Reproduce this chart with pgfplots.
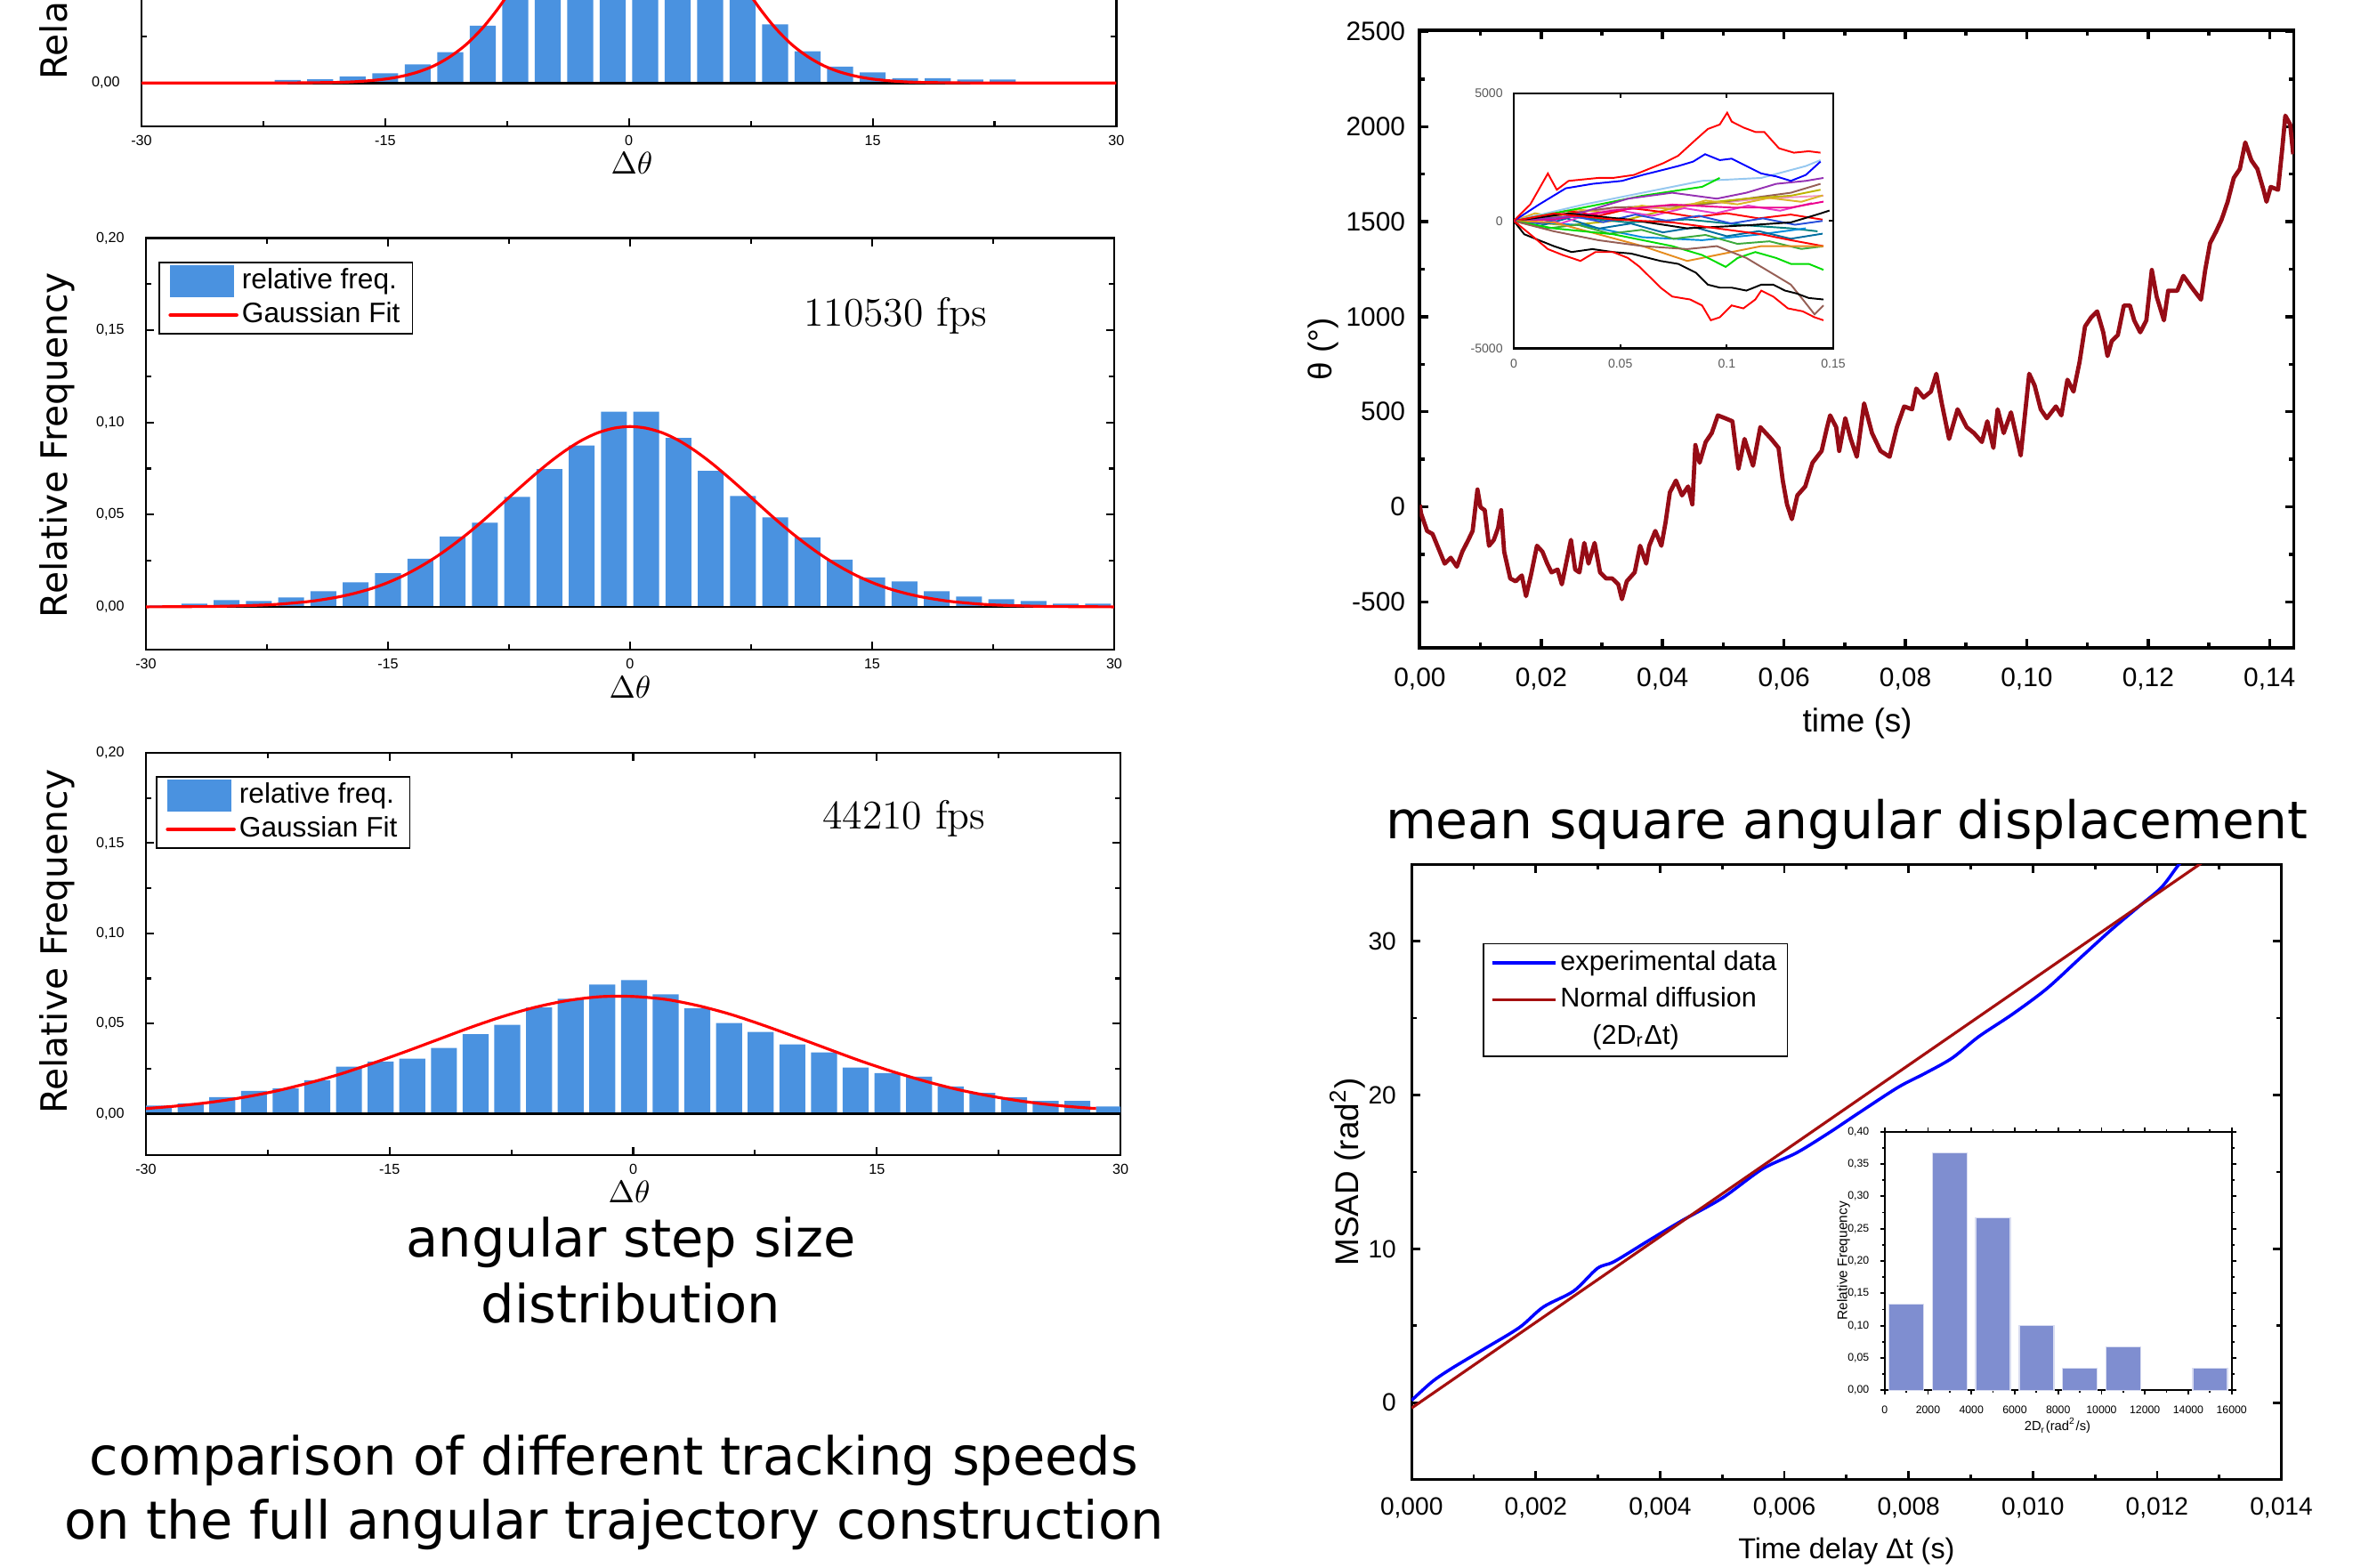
\documentclass[border=0pt]{standalone}
\usepackage{pgfplots}
\pgfplotsset{compat=1.18}
\usepackage{fontspec}
\newfontfamily\arial{Liberation Sans}
\newfontfamily\dejavu{DejaVu Sans}

\definecolor{barblue}{RGB}{74,146,224}
\definecolor{trace}{RGB}{150,12,22}
\definecolor{msadred}{RGB}{165,15,15}
\definecolor{histblue}{RGB}{127,142,208}
\definecolor{wbrown}{RGB}{150,95,85}
\definecolor{wgreen}{RGB}{0,220,0}
\definecolor{wdgreen}{RGB}{60,170,60}
\definecolor{worange}{RGB}{230,140,30}
\definecolor{wyellow}{RGB}{220,180,40}
\definecolor{wpurple}{RGB}{150,50,180}
\definecolor{wlblue}{RGB}{150,200,240}
\definecolor{wolive}{RGB}{190,180,0}
\definecolor{wteal}{RGB}{0,130,130}
\definecolor{wcyan}{RGB}{0,140,220}
\definecolor{wdcyan}{RGB}{0,110,160}
\definecolor{wpink}{RGB}{240,150,200}
\definecolor{wmag}{RGB}{230,60,200}
\definecolor{wblue}{RGB}{40,80,220}

\pgfplotsset{
  scaled ticks=false,
  /pgf/number format/assume math mode=true,
  histo/.style={
    anchor=south west, scale only axis,
    xmin=-30, xmax=30, ymax=0.2,
    xtick={-30,-15,0,15,30}, minor x tick num=1,
    ytick={0,0.05,0.1,0.15,0.2}, minor y tick num=1,
    tick align=inside, tick pos=both,
    major tick length=0.09cm, minor tick length=0.06cm,
    axis line style={line width=0.6pt},
    every tick/.style={black, line width=0.6pt},
    ticklabel style={font=\arial\fontsize{4.6}{5}\selectfont},
    yticklabel style={/pgf/number format/.cd, fixed, fixed zerofill, precision=2, use comma},
    xticklabel shift=-0.02cm, yticklabel shift=0.12cm,
    xlabel={$\Delta\theta$},
    xlabel style={font=\fontsize{10}{12}\selectfont, anchor=center},
    ylabel={Relative Frequency},
    ylabel style={font=\dejavu\fontsize{11.6}{13}\selectfont, anchor=center},
    legend cell align=left,
    legend style={anchor=north west, draw=black, line width=0.5pt,
      font=\arial\fontsize{9}{10}\selectfont,
      inner xsep=0.1cm, inner ysep=0.03cm, row sep=0.02cm,
      nodes={inner sep=0.04cm}},
  }
}

\begin{document}
\begin{tikzpicture}
\useasboundingbox (0,0) rectangle (26.71,-17.61);

% ---------- top-left histogram (cut at the top) ----------
\begin{axis}[histo, at={(1.59cm,-1.417cm)}, width=10.955cm, height=4.629cm, ymin=-0.0234,
  yticklabels={{0,00},{},{},{},{}},
  ylabel style={at={(axis description cs:-0.0867,0.531)}},
  xlabel style={at={(axis description cs:0.503,-0.0892)}}]
\addplot[ybar, bar width=1.6, bar shift=0pt, fill=barblue, draw=none, forget plot] coordinates {
  (-21,0.0016) (-19,0.0020) (-17,0.0036) (-15,0.0052) (-13,0.0101) (-11,0.0167)
  (-9,0.0310) (-7,0.056) (-5,0.083) (-3,0.108) (-1,0.126) (1,0.125) (3,0.109)
  (5,0.084) (7,0.057) (9,0.0318) (11,0.0172) (13,0.0089) (15,0.0057) (17,0.0026)
  (19,0.0026) (21,0.0018) (23,0.0018)};
\addplot[black, line width=0.8pt, forget plot] coordinates {(-30,0) (30,0)};
\addplot[red, line width=0.9pt, smooth, forget plot] coordinates {
  (-30,0) (-22,0) (-20,0.0001) (-18,0.0003) (-17,0.0006) (-16,0.0012) (-15,0.0021)
  (-14,0.0036) (-13,0.0059) (-12,0.0093) (-11,0.0143) (-10,0.0210) (-9,0.0299)
  (-8,0.0410) (-7,0.0541) (-6,0.0688) (-5,0.0843) (-4,0.0996) (-3,0.1134)
  (-2,0.1244) (-1,0.1315) (0,0.1340) (1,0.1315) (2,0.1244) (3,0.1134) (4,0.0996)
  (5,0.0843) (6,0.0688) (7,0.0541) (8,0.0410) (9,0.0299) (10,0.0210) (11,0.0143)
  (12,0.0093) (13,0.0059) (14,0.0036) (15,0.0021) (16,0.0012) (17,0.0006)
  (18,0.0003) (20,0.0001) (22,0) (30,0)};
\end{axis}

% ---------- 110530 fps ----------
\begin{axis}[histo, at={(1.64cm,-7.30cm)}, width=10.88cm, height=4.625cm, ymin=-0.0232,
  ylabel style={at={(axis description cs:-0.0919,0.4965)}},
  xlabel style={at={(axis description cs:0.5,-0.0908)}},
  legend style={at={(0.0133,0.9427)}}]
\addlegendimage{legend image code/.code={\fill[barblue] (0cm,-0.17cm) rectangle (0.70cm,0.17cm);}}
\addlegendentry{relative freq.}
\addlegendimage{legend image code/.code={\draw[red, line width=1.3pt, line cap=round] (0cm,0cm) -- (0.74cm,0cm);}}
\addlegendentry{Gaussian Fit}
\addplot[ybar, bar width=1.6, bar shift=0pt, fill=barblue, draw=none, forget plot] coordinates {
  (-29,0.0008) (-27,0.0017) (-25,0.0036) (-23,0.0032) (-21,0.0051) (-19,0.0085)
  (-17,0.0133) (-15,0.0183) (-13,0.0261) (-11,0.0382) (-9,0.0456) (-7,0.0596)
  (-5,0.0747) (-3,0.0875) (-1,0.1058) (1,0.1058) (3,0.0916) (5,0.0737) (7,0.0601)
  (9,0.0485) (11,0.0377) (13,0.0256) (15,0.0159) (17,0.0138) (19,0.0085)
  (21,0.0056) (23,0.0041) (25,0.0032) (27,0.0017) (29,0.0017)};
\addplot[black, line width=0.8pt, forget plot] coordinates {(-30,0) (30,0)};
\addplot[red, line width=0.9pt, smooth, forget plot] coordinates {
  (-30,0) (-28,0.0001) (-26,0.0002) (-24,0.0006) (-22,0.0013) (-20,0.0028)
  (-19,0.0040) (-18,0.0055) (-17,0.0075) (-16,0.0100) (-15,0.0132) (-14,0.0171)
  (-13,0.0218) (-12,0.0272) (-11,0.0334) (-10,0.0402) (-9,0.0476) (-8,0.0554)
  (-7,0.0633) (-6,0.0710) (-5,0.0783) (-4,0.0848) (-3,0.0903) (-2,0.0944)
  (-1,0.0969) (0,0.0978) (1,0.0969) (2,0.0944) (3,0.0903) (4,0.0848) (5,0.0783)
  (6,0.0710) (7,0.0633) (8,0.0554) (9,0.0476) (10,0.0402) (11,0.0334) (12,0.0272)
  (13,0.0218) (14,0.0171) (15,0.0132) (16,0.0100) (17,0.0075) (18,0.0055)
  (19,0.0040) (20,0.0028) (22,0.0013) (24,0.0006) (26,0.0002) (28,0.0001) (30,0)};
\node[font=\fontsize{13}{15}\selectfont] at (rel axis cs:0.774,0.811) {110530 fps};
\end{axis}

% ---------- 44210 fps ----------
\begin{axis}[histo, at={(1.64cm,-12.98cm)}, width=10.95cm, height=4.52cm, ymin=-0.0229,
  ylabel style={at={(axis description cs:-0.0913,0.531)}},
  xlabel style={at={(axis description cs:0.496,-0.0907)}},
  legend style={at={(0.0105,0.943)}}]
\addlegendimage{legend image code/.code={\fill[barblue] (0cm,-0.17cm) rectangle (0.70cm,0.17cm);}}
\addlegendentry{relative freq.}
\addlegendimage{legend image code/.code={\draw[red, line width=1.3pt, line cap=round] (0cm,0cm) -- (0.74cm,0cm);}}
\addlegendentry{Gaussian Fit}
\addplot[ybar, bar width=1.6, bar shift=0pt, fill=barblue, draw=none, forget plot] coordinates {
  (-29.2,0.0046) (-27.25,0.0058) (-25.3,0.0092) (-23.35,0.0127) (-21.4,0.0140)
  (-19.45,0.0186) (-17.5,0.0261) (-15.55,0.0290) (-13.6,0.0305) (-11.65,0.0365)
  (-9.7,0.0441) (-7.75,0.0493) (-5.8,0.0589) (-3.85,0.0637) (-1.9,0.0716)
  (0.05,0.0741) (2.0,0.0662) (3.95,0.0584) (5.9,0.0503) (7.85,0.0454) (9.8,0.0384)
  (11.75,0.0340) (13.7,0.0256) (15.65,0.0226) (17.6,0.0206) (19.55,0.0152)
  (21.5,0.0116) (23.45,0.0091) (25.4,0.0071) (27.35,0.0071) (29.3,0.0041)};
\addplot[black, line width=0.8pt, forget plot] coordinates {(-30,0) (30,0)};
\addplot[red, line width=0.9pt, smooth, forget plot] coordinates {
  (-30,0.0029) (-28,0.0044) (-26,0.0064) (-24,0.0091) (-22,0.0126) (-20,0.0170)
  (-18,0.0221) (-16,0.0281) (-14,0.0345) (-12,0.0412) (-10,0.0479) (-8,0.0540)
  (-6,0.0591) (-4,0.0628) (-2,0.0649) (0,0.0650) (2,0.0634) (4,0.0599) (6,0.0551)
  (8,0.0491) (10,0.0426) (12,0.0359) (14,0.0293) (16,0.0233) (18,0.0180)
  (20,0.0134) (22,0.0098) (24,0.0069) (26,0.0047) (28,0.0032) (28.5,0.0030)};
\node[font=\fontsize{13}{15}\selectfont] at (rel axis cs:0.778,0.836) {44210 fps};
\end{axis}

% ---------- captions ----------
\node[font=\dejavu\fontsize{16.8}{19}\selectfont, anchor=base] at (7.09,-14.12) {angular step size};
\node[font=\dejavu\fontsize{16.8}{19}\selectfont, anchor=base] at (7.09,-14.86) {distribution};
\node[font=\dejavu\fontsize{16.8}{19}\selectfont, anchor=base] at (6.90,-16.57) {comparison of different tracking speeds};
\node[font=\dejavu\fontsize{16.8}{19}\selectfont, anchor=base] at (6.90,-17.29) {on the full angular trajectory construction};
\node[font=\dejavu\fontsize{16.6}{19}\selectfont, anchor=base] at (20.75,-9.42) {mean square angular displacement};

% ---------- angle versus time ----------
\begin{axis}[anchor=south west, scale only axis, at={(15.954cm,-7.282cm)},
  width=9.821cm, height=6.946cm,
  xmin=0, xmax=0.144, ymin=-743, ymax=2509,
  xtick={0,0.02,0.04,0.06,0.08,0.1,0.12,0.14}, minor x tick num=1,
  ytick={-500,0,500,1000,1500,2000,2500}, minor y tick num=1,
  tick align=inside, tick pos=both,
  major tick length=0.1cm, minor tick length=0.06cm,
  axis line style={line width=1.1pt},
  every tick/.style={black, line width=1pt},
  ticklabel style={font=\arial\fontsize{8.5}{10}\selectfont},
  xticklabel style={/pgf/number format/.cd, fixed, fixed zerofill, precision=2, use comma},
  yticklabel style={/pgf/number format/.cd, 1000 sep={}},
  xticklabel shift=0.1cm, yticklabel shift=0.04cm,
  xlabel={time (s)}, ylabel={θ (°)},
  xlabel style={font=\arial\fontsize{10.5}{12}\selectfont, at={(axis description cs:0.5006,-0.1215)}, anchor=center},
  ylabel style={font=\arial\fontsize{10.5}{12}\selectfont, at={(axis description cs:-0.1104,0.484)}, anchor=center}]
\addplot[trace, line width=1.35pt, line join=round] coordinates {
  (0,10) (0.0002,-34) (0.0012,-127) (0.0021,-143) (0.0031,-221) (0.0041,-299)
  (0.0051,-268) (0.0061,-315) (0.0070,-236) (0.0080,-174) (0.0087,-127) (0.0095,91)
  (0.0100,-2) (0.0107,-18) (0.0114,-205) (0.0122,-174) (0.0129,-111) (0.0134,-18)
  (0.0139,-236) (0.0149,-377) (0.0158,-392) (0.0168,-361) (0.0175,-470) (0.0183,-361)
  (0.0193,-205) (0.0202,-236) (0.0210,-299) (0.0217,-345) (0.0227,-330) (0.0234,-408)
  (0.0241,-299) (0.0249,-174) (0.0256,-330) (0.0263,-345) (0.0271,-190) (0.0278,-299)
  (0.0288,-190) (0.0297,-345) (0.0307,-377) (0.0317,-377) (0.0327,-408) (0.0333,-486)
  (0.0341,-392) (0.0354,-345) (0.0363,-205) (0.0373,-299) (0.0378,-205) (0.0388,-127)
  (0.0398,-205) (0.0405,-80) (0.0412,76) (0.0422,138) (0.0432,60) (0.0442,107)
  (0.0449,13) (0.0454,325) (0.0461,232) (0.0471,341) (0.0481,388) (0.0491,481)
  (0.0503,466) (0.0515,450) (0.0525,200) (0.0535,357) (0.0549,216) (0.0561,419)
  (0.0579,357) (0.0591,310) (0.0598,138) (0.0605,13) (0.0613,-65) (0.0622,60)
  (0.0635,107) (0.0647,232) (0.0662,294) (0.0671,419) (0.0676,481) (0.0686,419)
  (0.0691,294) (0.0701,466) (0.0710,357) (0.0720,263) (0.0732,544) (0.0745,388)
  (0.0759,294) (0.0774,263) (0.0786,419) (0.0798,528) (0.0811,513) (0.0818,622)
  (0.0830,575) (0.0842,606) (0.0851,700) (0.0860,544) (0.0872,357) (0.0886,513)
  (0.0901,419) (0.0913,388) (0.0926,341) (0.0935,450) (0.0945,310) (0.0952,513)
  (0.0962,388) (0.0974,497) (0.0984,357) (0.0990,270) (0.1004,700) (0.1013,638)
  (0.1023,513) (0.1033,466) (0.1048,528) (0.1057,481) (0.1067,669) (0.1077,606)
  (0.1087,762) (0.1096,949) (0.1106,996) (0.1116,1028) (0.1126,918) (0.1133,793)
  (0.1140,872) (0.1150,903) (0.1160,1059) (0.1170,1059) (0.1177,981) (0.1187,918)
  (0.1197,981) (0.1206,1246) (0.1214,1106) (0.1226,981) (0.1233,1137) (0.1248,1137)
  (0.1258,1215) (0.1272,1153) (0.1287,1090) (0.1294,1246) (0.1302,1387) (0.1312,1449)
  (0.1321,1511) (0.1331,1605) (0.1341,1730) (0.1351,1777) (0.1360,1917) (0.1370,1823)
  (0.1380,1777) (0.1390,1668) (0.1395,1605) (0.1402,1683) (0.1414,1668) (0.1421,1886)
  (0.1426,2058) (0.1434,2011) (0.1439,1855)};
\end{axis}

% ---------- inset: many trajectories ----------
\begin{axis}[anchor=south west, scale only axis, at={(17.01cm,-3.915cm)},
  width=3.59cm, height=2.865cm,
  xmin=0, xmax=0.15, ymin=-5000, ymax=5000,
  xtick={0,0.05,0.1,0.15}, xticklabels={0,0.05,0.1,0.15},
  ytick={-5000,0,5000}, yticklabels={-5000,0,5000},
  tick align=inside, tick pos=both, major tick length=0.05cm,
  axis line style={line width=0.6pt},
  every tick/.style={black, line width=0.5pt},
  ticklabel style={font=\arial\fontsize{4}{4.5}\selectfont, text=black!65},
  axis background/.style={fill=white},
  every axis plot/.append style={line width=0.55pt}]
\addplot[wpink] coordinates {(0,0) (0.0327,407) (0.0744,523) (0.1162,872) (0.1454,989)};
\addplot[wbrown] coordinates {(0,0) (0.0466,523) (0.0884,640) (0.1301,1105) (0.1440,1454)};
\addplot[wolive] coordinates {(0,0) (0.0257,-174) (0.0536,58) (0.0814,640) (0.1092,872) (0.1301,989) (0.1440,1221)};
\addplot[wteal] coordinates {(0,0) (0.0257,174) (0.0536,-58) (0.0814,58) (0.1092,-174) (0.1301,-291) (0.1426,-407)};
\addplot[wcyan] coordinates {(0,0) (0.0327,-174) (0.0605,-640) (0.0884,-756) (0.1162,-523) (0.1371,-291)};
\addplot[wyellow] coordinates {(0,0) (0.010,300) (0.020,150) (0.030,450) (0.045,300) (0.060,600) (0.075,450) (0.090,800) (0.105,650) (0.120,900) (0.135,750) (0.145,1000)};
\addplot[wdcyan] coordinates {(0,0) (0.012,-200) (0.025,100) (0.040,-300) (0.055,-100) (0.070,-450) (0.085,-250) (0.100,-600) (0.115,-400) (0.130,-700) (0.145,-500)};
\addplot[wmag] coordinates {(0,0) (0.010,200) (0.022,-100) (0.035,250) (0.050,400) (0.065,200) (0.080,500) (0.095,300) (0.110,600) (0.125,400) (0.140,700)};
\addplot[wdgreen] coordinates {(0,0) (0.015,-300) (0.030,-150) (0.045,-500) (0.060,-350) (0.075,-700) (0.090,-550) (0.105,-900) (0.120,-800) (0.135,-1100) (0.145,-1000)};
\addplot[red] coordinates {(0,0) (0.010,100) (0.025,400) (0.040,200) (0.055,500) (0.070,350) (0.085,150) (0.100,300) (0.115,100) (0.130,250) (0.145,50)};
\addplot[wblue] coordinates {(0,0) (0.012,-100) (0.027,200) (0.042,-50) (0.057,250) (0.072,0) (0.087,200) (0.102,-100) (0.117,100) (0.132,-150) (0.145,0)};
\addplot[magenta] coordinates {(0,0) (0.0188,58) (0.0466,407) (0.0744,640) (0.1023,523) (0.1301,523) (0.1454,756)};
\addplot[wlblue] coordinates {(0,0) (0.0327,640) (0.0605,1105) (0.0884,1570) (0.1162,1686) (0.1371,2152) (0.1440,2384)};
\addplot[wgreen] coordinates {(0,0) (0.0327,523) (0.0605,989) (0.0884,1337) (0.0967,1686)};
\addplot[wpurple] coordinates {(0,0) (0.0257,174) (0.0536,872) (0.0744,1105) (0.0953,872) (0.1092,1105) (0.1232,1454) (0.1371,1570) (0.1454,1686)};
\addplot[black] coordinates {(0,0) (0.0257,291) (0.0536,58) (0.0814,-291) (0.1092,-174) (0.1301,-58) (0.1440,291) (0.1482,407)};
\addplot[red] coordinates {(0,0) (0.0188,291) (0.0466,58) (0.0744,-58) (0.0953,-291) (0.1162,-523) (0.1301,-756) (0.1454,-989)};
\addplot[worange] coordinates {(0,0) (0.0188,-58) (0.0397,-523) (0.0605,-989) (0.0814,-1570) (0.0953,-1337) (0.1162,-989) (0.1301,-989) (0.1454,-989)};
\addplot[wgreen] coordinates {(0,0) (0.0188,-291) (0.0466,-523) (0.0744,-989) (0.0884,-1337) (0.0995,-1803) (0.1051,-1454) (0.1134,-1221) (0.1232,-1454) (0.1301,-1686) (0.1385,-1686) (0.1454,-1919)};
\addplot[wbrown] coordinates {(0,0) (0.0188,-407) (0.0397,-756) (0.0605,-989) (0.0814,-1105) (0.0953,-989) (0.1092,-1454) (0.1162,-1803) (0.1232,-2152) (0.1301,-2500) (0.1357,-3082) (0.1412,-3663) (0.1454,-3315)};
\addplot[black] coordinates {(0,0) (0.0049,-523) (0.0118,-756) (0.0188,-989) (0.0271,-1221) (0.0369,-1105) (0.0466,-1221) (0.0550,-1279) (0.0633,-1454) (0.0689,-1570) (0.0772,-1686) (0.0856,-2035) (0.0911,-2500) (0.0967,-2617) (0.1023,-2617) (0.1092,-2733) (0.1162,-2500) (0.1218,-2500) (0.1273,-2733) (0.1329,-2849) (0.1385,-3024) (0.1454,-3082)};
\addplot[red] coordinates {(0,0) (0.0077,-523) (0.0160,-1105) (0.0230,-1337) (0.0313,-1570) (0.0383,-1221) (0.0466,-1221) (0.0536,-1454) (0.0591,-1803) (0.0633,-2152) (0.0689,-2617) (0.0744,-2966) (0.0828,-3082) (0.0884,-3315) (0.0925,-3896) (0.0967,-3780) (0.1023,-3315) (0.1078,-3431) (0.1134,-3082) (0.1162,-2733) (0.1218,-2966) (0.1287,-3431) (0.1357,-3547) (0.1412,-3780) (0.1454,-3896)};
\addplot[blue] coordinates {(0,0) (0.0118,640) (0.0244,1279) (0.0369,1454) (0.0508,1570) (0.0605,1803) (0.0689,1977) (0.0772,2152) (0.0842,2326) (0.0898,2617) (0.0967,2384) (0.1023,2442) (0.1092,2152) (0.1162,1861) (0.1232,1745) (0.1301,1570) (0.1371,1803) (0.1440,2326)};
\addplot[red] coordinates {(0,0) (0.0077,640) (0.0160,1860) (0.0202,1221) (0.0257,1570) (0.0327,1628) (0.0397,1686) (0.0466,1686) (0.0564,1803) (0.0633,2035) (0.0703,2268) (0.0772,2559) (0.0856,3198) (0.0911,3605) (0.0967,3780) (0.1002,4245) (0.1023,3896) (0.1078,3663) (0.1134,3489) (0.1176,3489) (0.1245,2849) (0.1315,2675) (0.1385,2733) (0.1440,2675)};
\end{axis}

% ---------- MSAD ----------
\begin{axis}[anchor=south west, scale only axis, at={(15.862cm,-16.626cm)},
  width=9.773cm, height=6.914cm,
  xmin=0, xmax=0.014, ymin=-5, ymax=35,
  xtick={0,0.002,0.004,0.006,0.008,0.01,0.012,0.014}, minor x tick num=1,
  ytick={0,10,20,30}, minor y tick num=1,
  tick align=inside, tick pos=both,
  major tick length=0.1cm, minor tick length=0.06cm,
  axis line style={line width=0.9pt},
  every tick/.style={black, line width=0.8pt},
  ticklabel style={font=\arial\fontsize{8}{10}\selectfont},
  xticklabel style={/pgf/number format/.cd, fixed, fixed zerofill, precision=3, use comma},
  xticklabel shift=0.08cm, yticklabel shift=0.05cm,
  xlabel={Time delay Δt (s)}, ylabel={MSAD (rad\textsuperscript{2})},
  xlabel style={font=\arial\fontsize{9.2}{11}\selectfont, at={(axis description cs:0.5,-0.1163)}, anchor=center},
  ylabel style={font=\arial\fontsize{10.5}{12}\selectfont, at={(axis description cs:-0.0739,0.5)}, anchor=center},
  legend cell align=left,
  legend style={at={(0.0817,0.8723)}, anchor=north west, draw=black, line width=0.5pt,
    font=\arial\fontsize{8.7}{10.5}\selectfont, inner xsep=0.08cm, inner ysep=0.04cm,
    row sep=0.06cm, nodes={inner sep=0.04cm}},
  legend image code/.code={\draw[#1] (0cm,0cm) -- (0.71cm,0cm);}]
\addplot[blue, line width=1pt, smooth] coordinates {
  (0,0.15) (0.00033,1.36) (0.00065,2.24) (0.00120,3.57) (0.00174,4.90) (0.00212,6.22)
  (0.00261,7.26) (0.00299,8.73) (0.00326,9.17) (0.00380,10.50) (0.00435,11.83)
  (0.00500,13.30) (0.00565,15.20) (0.00620,16.25) (0.00674,17.60) (0.00717,18.76)
  (0.00783,20.50) (0.00826,21.40) (0.00870,22.40) (0.00913,23.80) (0.00967,25.25)
  (0.01022,26.90) (0.01076,28.90) (0.01125,30.70) (0.01169,32.20) (0.01207,33.50)
  (0.01234,34.93) (0.01250,35.6)};
\addlegendentry{experimental data}
\addplot[msadred, line width=0.9pt] coordinates {(0,-0.35) (0.0128,35.32)};
\addlegendentry{Normal diffusion}
\addlegendimage{empty legend}
\addlegendentry{\hspace*{0.36cm}(2D\textsubscript{r}Δt)}
\end{axis}

% ---------- MSAD inset: 2Dr histogram ----------
\begin{axis}[anchor=south west, scale only axis, at={(21.177cm,-15.623cm)},
  width=3.90cm, height=2.906cm,
  xmin=0, xmax=16000, ymin=0, ymax=0.4,
  xtick={0,2000,4000,6000,8000,10000,12000,14000,16000}, minor x tick num=1,
  ytick={0,0.05,0.1,0.15,0.2,0.25,0.3,0.35,0.4}, minor y tick num=1,
  tick align=outside, xtick pos=both, ytick pos=both,
  major tick length=0.05cm, minor tick length=0.03cm,
  axis line style={line width=0.6pt},
  every tick/.style={black, line width=0.5pt},
  ticklabel style={font=\arial\fontsize{3.5}{4}\selectfont},
  xticklabel style={/pgf/number format/.cd, 1000 sep={}},
  yticklabel style={/pgf/number format/.cd, fixed, fixed zerofill, precision=2, use comma},
  xlabel={2D\textsubscript{r}(rad\textsuperscript{2}/s)}, ylabel={Relative Frequency},
  xlabel style={font=\arial\fontsize{4.2}{5}\selectfont, at={(axis description cs:0.498,-0.136)}, anchor=center},
  ylabel style={font=\arial\fontsize{4.4}{5}\selectfont, at={(axis description cs:-0.118,0.501)}, anchor=center},
  axis background/.style={fill=white}]
\addplot[ybar, bar width=1600, bar shift=0pt, fill=histblue, draw=histblue!30, line width=0.4pt] coordinates {
  (1000,0.1335) (3000,0.3674) (5000,0.2665) (7000,0.1000) (9000,0.0339)
  (11000,0.0670) (15000,0.0339)};
\end{axis}
\end{tikzpicture}
\end{document}
